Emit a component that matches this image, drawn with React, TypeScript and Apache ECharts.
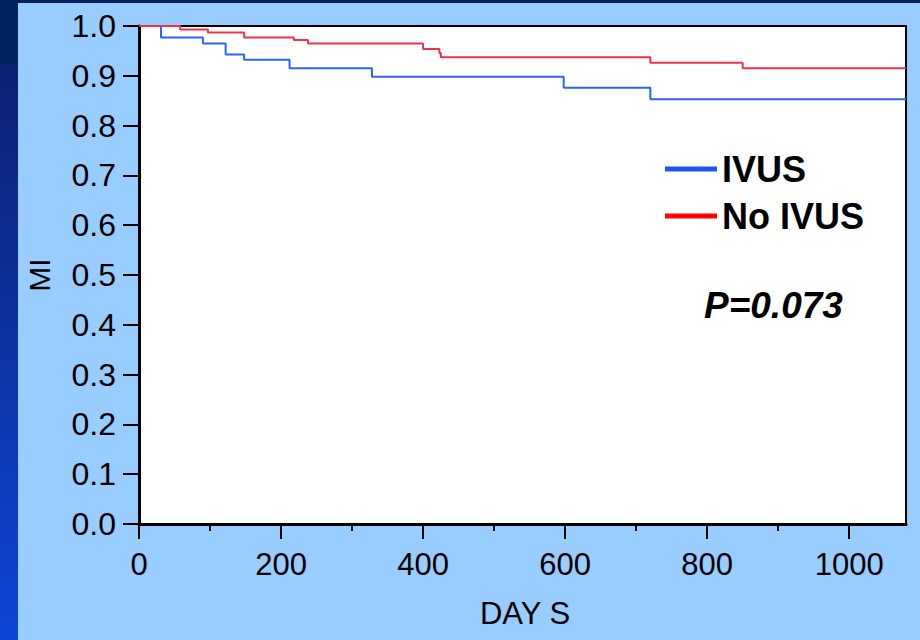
import React, { useEffect, useRef } from "react";
import * as echarts from "echarts";

// IVUS group: [day, MI-free survival]
const ivusDays = [0, 31, 90, 122, 148, 212, 328, 598, 720, 1080];
const ivusValues = [1.0, 0.977, 0.965, 0.943, 0.932, 0.915, 0.898, 0.876, 0.853, 0.853];

// No IVUS group
const noIvusDays = [0, 58, 97, 148, 218, 238, 400, 423, 425, 720, 850, 1080];
const noIvusValues = [1.0, 0.993, 0.987, 0.977, 0.972, 0.965, 0.954, 0.946, 0.937, 0.926, 0.915, 0.915];

const seriesNames = ["IVUS", "No IVUS"];
const xMajorTicks = [0, 200, 400, 600, 800, 1000];
const xMinorTicks = [100, 300, 500, 700, 900];
const xAxisTitle = "DAY S";
const yAxisTitle = "MI";
const pValueText = "P=0.073";

const FONT = '"Liberation Sans", Arial, sans-serif';

export default function App() {
  const ref = useRef<HTMLDivElement>(null);

  useEffect(() => {
    document.body.style.margin = "0";
    if (!ref.current) return;
    const chart = echarts.init(ref.current, undefined, { renderer: "svg" });

    const ivusData = ivusDays.map((d, i) => [d, ivusValues[i]]);
    const noIvusData = noIvusDays.map((d, i) => [d, noIvusValues[i]]);

    const option: any = {
      animation: false,
      backgroundColor: "transparent",
      grid: {
        left: 139,
        right: 14,
        top: 26,
        bottom: 116,
        show: true,
        backgroundColor: "#ffffff",
        borderColor: "#000000",
        borderWidth: 2,
      },
      xAxis: [
        {
          type: "value",
          min: 0,
          max: 1080,
          position: "bottom",
          axisLine: { show: true, onZero: false, lineStyle: { color: "#000", width: 3 } },
          axisTick: {
            show: true,
            customValues: xMajorTicks,
            length: 15,
            lineStyle: { color: "#000", width: 2 },
          },
          axisLabel: {
            customValues: xMajorTicks,
            fontSize: 31,
            fontFamily: FONT,
            color: "#000",
            margin: 25,
            formatter: (v: number) => String(v),
          },
          splitLine: { show: false },
        },
        {
          type: "value",
          min: 0,
          max: 1080,
          position: "bottom",
          axisLine: { show: false },
          axisTick: {
            show: true,
            customValues: xMinorTicks,
            length: 7,
            lineStyle: { color: "#000", width: 2 },
          },
          axisLabel: { show: false },
          splitLine: { show: false },
        },
      ],
      yAxis: {
        type: "value",
        min: 0,
        max: 1,
        interval: 0.1,
        axisLine: { show: true, onZero: false, lineStyle: { color: "#000", width: 3 } },
        axisTick: { show: true, length: 16, lineStyle: { color: "#000", width: 2 } },
        axisLabel: {
          fontSize: 32,
          fontFamily: FONT,
          color: "#000",
          margin: 23,
          formatter: (v: number) => v.toFixed(1),
        },
        splitLine: { show: false },
      },
      legend: {
        orient: "vertical",
        left: 665,
        top: 151,
        padding: 0,
        icon: "rect",
        itemWidth: 52,
        itemHeight: 5,
        itemGap: 11,
        textStyle: { fontSize: 36, fontWeight: "bold", fontFamily: FONT, color: "#000" },
        data: [
          { name: seriesNames[0], itemStyle: { color: "#1F55F2" } },
          { name: seriesNames[1], itemStyle: { color: "#FF0000" } },
        ],
      },
      series: [
        {
          name: seriesNames[0],
          type: "line",
          step: "end",
          symbol: "none",
          data: ivusData,
          lineStyle: { color: "#2864FF", width: 2 },
          itemStyle: { color: "#2864FF" },
        },
        {
          name: seriesNames[1],
          type: "line",
          step: "end",
          symbol: "none",
          data: noIvusData,
          lineStyle: { color: "#F0324B", width: 2 },
          itemStyle: { color: "#F0324B" },
        },
      ],
      graphic: [
        {
          type: "text",
          x: 525,
          y: 613,
          style: {
            text: xAxisTitle,
            align: "center",
            verticalAlign: "middle",
            fontSize: 31,
            fontFamily: FONT,
            fill: "#000",
          },
        },
        {
          type: "text",
          x: 39,
          y: 275,
          rotation: Math.PI / 2,
          style: {
            text: yAxisTitle,
            align: "center",
            verticalAlign: "middle",
            fontSize: 30,
            fontFamily: FONT,
            fill: "#000",
          },
        },
        {
          type: "text",
          x: 704,
          y: 305,
          style: {
            text: pValueText,
            align: "left",
            verticalAlign: "middle",
            fontSize: 37,
            fontWeight: "bold",
            fontStyle: "italic",
            fontFamily: FONT,
            fill: "#000",
          },
        },
      ],
    };

    chart.setOption(option);
    return () => chart.dispose();
  }, []);

  return (
    <div
      style={{
        position: "fixed",
        left: 0,
        top: 0,
        width: 920,
        height: 640,
        background: "#99CCFF",
        overflow: "hidden",
      }}
    >
      <div
        style={{
          position: "absolute",
          left: 0,
          top: 0,
          width: 18,
          height: 640,
          background:
            "linear-gradient(to bottom, #002060 0px, #002060 64px, #0E2170 64px, #0D45D8 640px)",
        }}
      />
      <div
        style={{
          position: "absolute",
          left: 0,
          top: 0,
          width: 920,
          height: 3,
          background: "#002060",
        }}
      />
      <div
        ref={ref}
        style={{ position: "absolute", left: 0, top: 0, width: 920, height: 640 }}
      />
    </div>
  );
}
